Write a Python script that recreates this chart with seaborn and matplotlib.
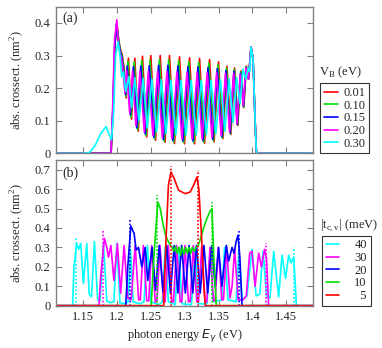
import numpy as np
import seaborn as sns
import matplotlib.pyplot as plt

sns.set_theme(style="ticks")
plt.rcParams['font.family'] = ['Liberation Serif', 'DejaVu Serif']
plt.rcParams['mathtext.fontset'] = 'custom'
plt.rcParams['mathtext.rm'] = 'Liberation Serif'
plt.rcParams['mathtext.it'] = 'DejaVu Sans:italic'
plt.rcParams['font.size'] = 9

# ---- panel (a): V_B series, (E, crossect) pairs ----
vb_labels = ["0.01", "0.10", "0.15", "0.20", "0.30"]
vb_colors = ["#ff0000", "#00e000", "#0000ff", "#ff00ff", "#00ffff"]

a_red = [(1.110, 0), (1.1915, 0), (1.1940, 0.12), (1.1970, 0.33), (1.1998, 0.400),
         (1.2025, 0.35), (1.2050, 0.32), (1.2075, 0.305), (1.2100, 0.27), (1.2136, 0.17),
         (1.2170, 0.292), (1.2215, 0.105), (1.2264, 0.292), (1.2315, 0.068),
         (1.2377, 0.298), (1.2440, 0.050), (1.2500, 0.300), (1.2570, 0.040),
         (1.2639, 0.300), (1.2710, 0.034), (1.2776, 0.300), (1.2850, 0.030),
         (1.2924, 0.296), (1.2998, 0.029), (1.3072, 0.293), (1.3146, 0.029),
         (1.3220, 0.291), (1.3294, 0.031), (1.3368, 0.288), (1.3435, 0.035),
         (1.3500, 0.281), (1.3565, 0.045), (1.3625, 0.267), (1.3682, 0.058),
         (1.3738, 0.262), (1.3785, 0.085), (1.3832, 0.253), (1.3872, 0.140),
         (1.3911, 0.268), (1.3945, 0.228), (1.3980, 0.326), (1.4010, 0.29),
         (1.4040, 0.10), (1.4060, 0.0), (1.490, 0.0)]

a_green = [(1.110, 0), (1.1913, 0), (1.1938, 0.12), (1.1968, 0.33), (1.1996, 0.398),
           (1.2023, 0.35), (1.2048, 0.318), (1.2073, 0.30), (1.2098, 0.265), (1.2132, 0.175),
           (1.2162, 0.282), (1.2208, 0.11), (1.2255, 0.281), (1.2305, 0.072),
           (1.2366, 0.285), (1.2430, 0.054), (1.2489, 0.286), (1.2558, 0.044),
           (1.2627, 0.287), (1.2698, 0.037), (1.2764, 0.287), (1.2838, 0.034),
           (1.2912, 0.284), (1.2986, 0.033), (1.3060, 0.281), (1.3134, 0.033),
           (1.3208, 0.279), (1.3282, 0.034), (1.3357, 0.277), (1.3425, 0.038),
           (1.3491, 0.272), (1.3557, 0.047), (1.3618, 0.262), (1.3676, 0.060),
           (1.3733, 0.258), (1.3781, 0.087), (1.3829, 0.250), (1.3870, 0.142),
           (1.3909, 0.266), (1.3944, 0.228), (1.3980, 0.326), (1.4010, 0.29),
           (1.4040, 0.10), (1.4060, 0.0), (1.490, 0.0)]

a_blue = [(1.110, 0), (1.1912, 0), (1.1937, 0.12), (1.1967, 0.33), (1.1996, 0.396),
          (1.2022, 0.345), (1.2046, 0.315), (1.2070, 0.295), (1.2094, 0.26), (1.2126, 0.18),
          (1.2152, 0.268), (1.2198, 0.118), (1.2243, 0.266), (1.2293, 0.078),
          (1.2353, 0.268), (1.2417, 0.060), (1.2477, 0.269), (1.2545, 0.049),
          (1.2615, 0.270), (1.2685, 0.042), (1.2752, 0.270), (1.2825, 0.039),
          (1.2900, 0.268), (1.2973, 0.038), (1.3048, 0.266), (1.3122, 0.038),
          (1.3196, 0.265), (1.3270, 0.039), (1.3345, 0.263), (1.3414, 0.043),
          (1.3482, 0.260), (1.3548, 0.051), (1.3610, 0.254), (1.3670, 0.063),
          (1.3728, 0.252), (1.3777, 0.089), (1.3826, 0.246), (1.3867, 0.145),
          (1.3907, 0.263), (1.3943, 0.228), (1.3980, 0.326), (1.4010, 0.29),
          (1.4040, 0.10), (1.4060, 0.0), (1.490, 0.0)]

a_magenta = [(1.110, 0), (1.1910, 0), (1.1935, 0.13), (1.1965, 0.35), (1.1998, 0.410),
             (1.2020, 0.34), (1.2043, 0.31), (1.2066, 0.29), (1.2088, 0.255), (1.2118, 0.185),
             (1.2142, 0.255), (1.2188, 0.125), (1.2230, 0.252), (1.2280, 0.085),
             (1.2340, 0.252), (1.2403, 0.066), (1.2463, 0.252), (1.2531, 0.055),
             (1.2601, 0.252), (1.2671, 0.048), (1.2738, 0.251), (1.2811, 0.045),
             (1.2886, 0.250), (1.2960, 0.044), (1.3035, 0.249), (1.3110, 0.044),
             (1.3184, 0.248), (1.3258, 0.045), (1.3333, 0.248), (1.3403, 0.048),
             (1.3472, 0.247), (1.3539, 0.055), (1.3602, 0.245), (1.3663, 0.066),
             (1.3722, 0.245), (1.3772, 0.091), (1.3822, 0.243), (1.3864, 0.148),
             (1.3905, 0.262), (1.3942, 0.228), (1.3980, 0.326), (1.4010, 0.29),
             (1.4040, 0.10), (1.4060, 0.0), (1.490, 0.0)]

a_cyan = [(1.110, 0), (1.150, 0), (1.160, 0.003), (1.168, 0.025), (1.176, 0.060),
          (1.1840, 0.082), (1.1890, 0.055), (1.1920, 0.042), (1.1950, 0.12), (1.1980, 0.30),
          (1.2017, 0.343), (1.2045, 0.30), (1.2070, 0.235), (1.2095, 0.25), (1.2130, 0.19),
          (1.2175, 0.235), (1.2215, 0.14), (1.2265, 0.232), (1.2325, 0.10),
          (1.2388, 0.230), (1.2448, 0.078), (1.2516, 0.228), (1.2586, 0.066),
          (1.2656, 0.226), (1.2723, 0.060), (1.2796, 0.225), (1.2871, 0.057),
          (1.2945, 0.224), (1.3020, 0.056), (1.3096, 0.224), (1.3170, 0.056),
          (1.3245, 0.224), (1.3320, 0.057), (1.3391, 0.225), (1.3461, 0.060),
          (1.3529, 0.226), (1.3594, 0.068), (1.3656, 0.228), (1.3716, 0.095),
          (1.3767, 0.232), (1.3818, 0.152), (1.3861, 0.258), (1.3903, 0.228),
          (1.3941, 0.262), (1.3960, 0.25), (1.3980, 0.326), (1.4010, 0.29),
          (1.4040, 0.10), (1.4060, 0.0), (1.490, 0.0)]

# ---- panel (b): |t_c,v| series ----
t_labels = ["40", "30", "20", "10", "\u20075"]
t_colors = ["#00ffff", "#ff00ff", "#0000ff", "#00e000", "#ff0000"]

b_cyan = [(1.110, 0), (1.1345, 0), (1.1366, 0.20), (1.1406, 0.32), (1.1435, 0.29),
          (1.1465, 0.32), (1.1504, 0.115), (1.1554, 0.32), (1.1590, 0.06), (1.1625, 0.046),
          (1.1667, 0.33), (1.1715, 0.03), (1.1750, 0.025), (1.1800, 0.32), (1.1850, 0.025),
          (1.1900, 0.015), (1.1955, 0.02), (1.1998, 0.32), (1.2045, 0.015), (1.2120, 0.01),
          (1.2165, 0.02), (1.2200, 0.29), (1.2240, 0.02), (1.2330, 0.01), (1.2400, 0.02),
          (1.2450, 0.31), (1.2500, 0.02), (1.2620, 0.005), (1.2670, 0.02), (1.2712, 0.30),
          (1.2760, 0.02), (1.2860, 0.005), (1.2910, 0.30), (1.2960, 0.01), (1.3100, 0.005),
          (1.3156, 0.30), (1.3200, 0.01), (1.3330, 0.01), (1.3378, 0.30), (1.3420, 0.02),
          (1.3545, 0.03), (1.3590, 0.30), (1.3640, 0.03), (1.3760, 0.02), (1.3800, 0.28),
          (1.3850, 0.03), (1.3920, 0.05), (1.3995, 0.29), (1.4055, 0.05), (1.4110, 0.06),
          (1.4158, 0.28), (1.4210, 0.05), (1.4260, 0.04), (1.4315, 0.28), (1.4388, 0.045),
          (1.4438, 0.26), (1.4490, 0.14), (1.4536, 0.26), (1.4570, 0.22), (1.4610, 0.25),
          (1.4635, 0.10), (1.4650, 0), (1.490, 0)]

b_magenta = [(1.110, 0), (1.1735, 0), (1.1760, 0.15), (1.1815, 0.346), (1.1850, 0.30),
             (1.1875, 0.25), (1.1910, 0.31), (1.1955, 0.13), (1.2007, 0.32), (1.2055, 0.064),
             (1.2106, 0.31), (1.2160, 0.04), (1.2210, 0.03), (1.2269, 0.31), (1.2320, 0.03),
             (1.2345, 0.03), (1.2390, 0.31), (1.2440, 0.025), (1.2470, 0.025), (1.2513, 0.31),
             (1.2565, 0.02), (1.2590, 0.02), (1.2636, 0.31), (1.2688, 0.02), (1.2712, 0.02),
             (1.2759, 0.31), (1.2810, 0.02), (1.2835, 0.02), (1.2882, 0.31), (1.2933, 0.02),
             (1.2958, 0.02), (1.3005, 0.31), (1.3056, 0.02), (1.3081, 0.02), (1.3128, 0.31),
             (1.3180, 0.02), (1.3204, 0.02), (1.3251, 0.30), (1.3302, 0.02), (1.3327, 0.02),
             (1.3374, 0.30), (1.3425, 0.025), (1.3450, 0.025), (1.3497, 0.30), (1.3548, 0.03),
             (1.3573, 0.03), (1.3620, 0.30), (1.3670, 0.04), (1.3700, 0.10), (1.3738, 0.29),
             (1.3790, 0.03), (1.3860, 0.03), (1.3910, 0.05), (1.3960, 0.27), (1.3995, 0.28),
             (1.4040, 0.10), (1.4093, 0.27), (1.4133, 0.20), (1.4180, 0.29), (1.4210, 0.24),
             (1.4240, 0), (1.490, 0)]

b_blue = [(1.110, 0), (1.2130, 0), (1.2160, 0.20), (1.2205, 0.41), (1.2254, 0.371),
          (1.2283, 0.286), (1.2318, 0.30), (1.2367, 0.20), (1.2417, 0.30), (1.2455, 0.13),
          (1.2520, 0.30), (1.2570, 0.08), (1.2625, 0.31), (1.2680, 0.07), (1.2735, 0.31),
          (1.2790, 0.065), (1.2845, 0.31), (1.2900, 0.065), (1.2955, 0.31), (1.3010, 0.065),
          (1.3065, 0.31), (1.3120, 0.065), (1.3175, 0.31), (1.3230, 0.065), (1.3285, 0.31),
          (1.3340, 0.065), (1.3400, 0.31), (1.3450, 0.097), (1.3500, 0.30), (1.3550, 0.10),
          (1.3615, 0.31), (1.3650, 0.23), (1.3700, 0.30), (1.3730, 0.27), (1.3760, 0.33),
          (1.3788, 0.363), (1.3815, 0.25), (1.3847, 0.0), (1.490, 0)]

b_green = [(1.110, 0), (1.2505, 0), (1.2545, 0.25), (1.2604, 0.534), (1.2640, 0.50),
           (1.2680, 0.42), (1.2720, 0.36), (1.2760, 0.33), (1.2790, 0.31), (1.2815, 0.30),
           (1.2840, 0.28), (1.2865, 0.305), (1.2890, 0.27), (1.2915, 0.30), (1.2940, 0.26),
           (1.2965, 0.30), (1.2990, 0.265), (1.3015, 0.30), (1.3040, 0.27), (1.3065, 0.30),
           (1.3090, 0.27), (1.3115, 0.30), (1.3140, 0.28), (1.3170, 0.30), (1.3200, 0.31),
           (1.3230, 0.34), (1.3280, 0.40), (1.3330, 0.45), (1.3380, 0.49), (1.3403, 0.50),
           (1.3430, 0.25), (1.3467, 0), (1.490, 0)]

b_red = [(1.110, 0), (1.2690, 0), (1.2720, 0.30), (1.2760, 0.62), (1.2797, 0.688),
         (1.2846, 0.654), (1.2910, 0.594), (1.2960, 0.585), (1.3008, 0.577), (1.3082, 0.585),
         (1.3131, 0.619), (1.3180, 0.662), (1.3210, 0.60), (1.3250, 0.35), (1.3280, 0.12),
         (1.3304, 0.0), (1.490, 0)]

# band edges (dotted verticals) and their heights
edge_e = [[1.1395, 1.4610], [1.1795, 1.4200], [1.2198, 1.3807], [1.2595, 1.3403], [1.2797, 1.3194]]
edge_h = [[0.346, 0.300], [0.392, 0.323], [0.448, 0.392], [0.568, 0.534], [0.717, 0.700]]

xticks = [1.15, 1.2, 1.25, 1.3, 1.35, 1.4, 1.45]
xticklabels = ["1.15", "1.2", "1.25", "1.3", "1.35", "1.4", "1.45"]

fig = plt.figure(figsize=(3.82, 3.48), dpi=100)
ax_a = fig.add_axes([0.1466, 0.5595, 0.6736, 0.4213])
ax_b = fig.add_axes([0.1466, 0.1216, 0.6736, 0.4187])

frame_col = "#808080"
lw = 1.2

for curve, col, lab in zip([a_red, a_green, a_blue, a_magenta, a_cyan], vb_colors, vb_labels):
    e, v = zip(*curve)
    sns.lineplot(x=list(e), y=list(v), color=col, lw=lw, ax=ax_a, label=lab,
                 estimator=None, sort=False)

for curve, col, lab, ee, hh in zip([b_cyan, b_magenta, b_blue, b_green, b_red],
                                   t_colors, t_labels, edge_e, edge_h):
    e, v = zip(*curve)
    ax_b.vlines(ee, 0, hh, colors=col, linestyles=(0, (1, 1.2)), lw=1.2)
    sns.lineplot(x=list(e), y=list(v), color=col, lw=lw, ax=ax_b, label=lab,
                 estimator=None, sort=False)

for ax in (ax_a, ax_b):
    ax.set_xlim(1.11, 1.49)
    ax.set_xticks(xticks)
    ax.tick_params(direction="in", top=True, right=True, length=4, width=0.8,
                   color=frame_col, labelsize=9, pad=4)
    for s in ax.spines.values():
        s.set_color(frame_col)
        s.set_linewidth(1.0)
    ax.set_ylabel("abs. crossect. (nm$^2$)", fontsize=9, labelpad=6)

ax_a.set_ylim(0, 0.45)
ax_a.set_yticks([0, 0.1, 0.2, 0.3, 0.4])
ax_a.set_yticklabels(["0", "0.1", "0.2", "0.3", "0.4"])
ax_a.set_xticklabels([])
ax_a.set_xlabel("")

ax_b.set_ylim(0, 0.75)
ax_b.set_yticks([0, 0.1, 0.2, 0.3, 0.4, 0.5, 0.6, 0.7])
ax_b.set_yticklabels(["0", "0.1", "0.2", "0.3", "0.4", "0.5", "0.6", "0.7"])
ax_b.set_xticklabels(xticklabels)
ax_b.set_xlabel("photon energy $E_\\gamma$ (eV)", fontsize=9, labelpad=3)

ax_a.text(0.026, 0.921, "(a)", transform=ax_a.transAxes, fontsize=10, va="center")
ax_b.text(0.026, 0.909, "(b)", transform=ax_b.transAxes, fontsize=10, va="center")

leg_a = ax_a.legend(loc="lower left", bbox_to_anchor=(1.026, 0.0), borderaxespad=0,
                    frameon=True, fancybox=False, fontsize=9, handlelength=1.1,
                    handletextpad=0.45, labelspacing=0.05, borderpad=0.3)
leg_a.get_frame().set_edgecolor("black")
leg_a.get_frame().set_linewidth(0.8)
ax_a.text(1.023, 0.555, "V$_\\mathrm{B}$ (eV)", transform=ax_a.transAxes,
          fontsize=9, ha="left", va="center")

leg_b = ax_b.legend(loc="lower left", bbox_to_anchor=(1.033, 0.0), borderaxespad=0,
                    frameon=True, fancybox=False, fontsize=9, handlelength=1.1,
                    handletextpad=1.2, labelspacing=0.05, borderpad=0.3)
leg_b.get_frame().set_edgecolor("black")
leg_b.get_frame().set_linewidth(0.8)
ax_b.text(1.026, 0.554, "|t$_\\mathrm{c,v}$| (meV)", transform=ax_b.transAxes,
          fontsize=9, ha="left", va="center")

fig.savefig("out.png", dpi=100, facecolor="white")
